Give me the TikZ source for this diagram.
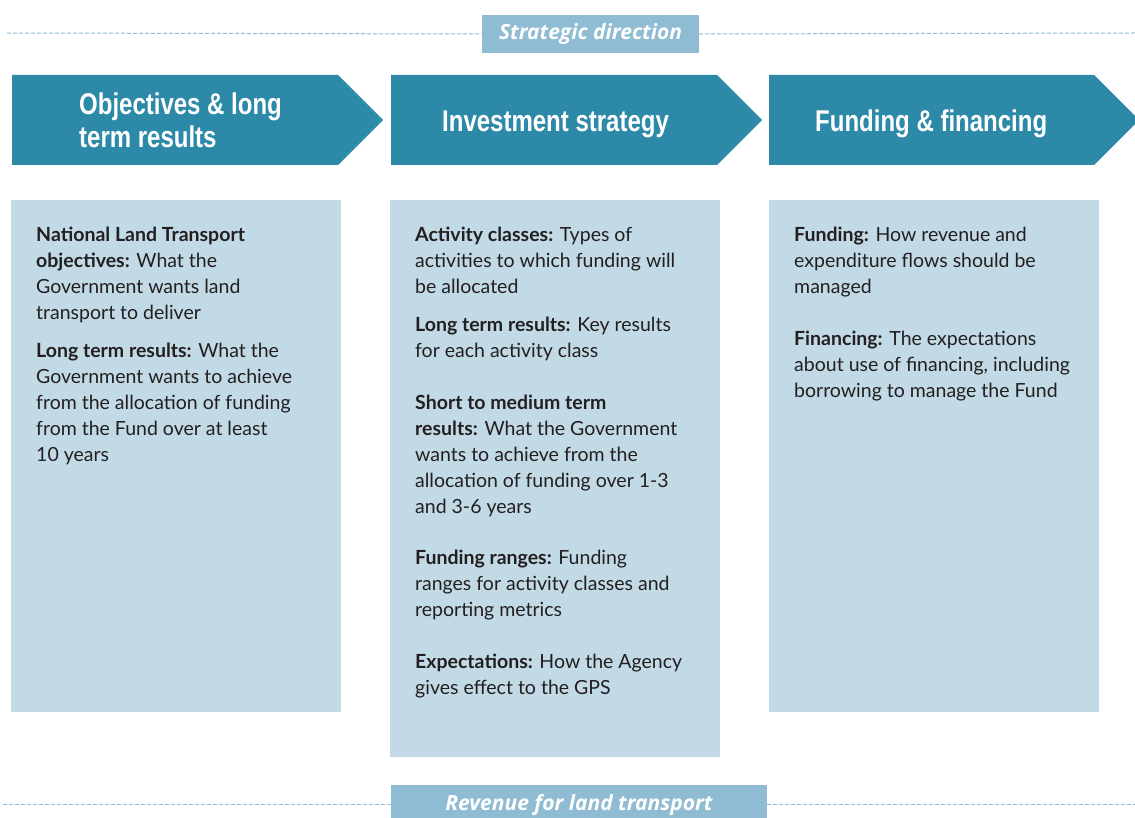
\documentclass[tikz,border=0pt]{standalone}
\usepackage{fontspec}
\setmainfont{Lato}
\newfontfamily\headfont[FakeStretch=0.8]{Liberation Sans}
\newfontfamily\tagfont{Open Sans}
\definecolor{tealA}{HTML}{2C89A8}
\definecolor{panelB}{HTML}{C2DAE6}
\definecolor{tagB}{HTML}{8FBCD2}
\definecolor{bodyT}{HTML}{231F20}
\tikzset{
  chevron/.style={fill=tealA},
  panel/.style={fill=panelB, anchor=north west, inner sep=0, minimum width=330pt},
  head/.style={text=white, font=\headfont\bfseries\fontsize{30}{33}\selectfont, inner sep=0, align=left},
  body/.style={text=bodyT, font=\fontsize{19.5}{26}\selectfont, inner sep=0, align=left, anchor=north west},
  tag/.style={fill=tagB, text=white, font=\tagfont\bfseries\itshape\fontsize{21}{24}\selectfont, inner sep=0},
  guide/.style={draw=tagB, dash pattern=on 4pt off 2pt, line width=1pt},
}
\begin{document}
\begin{tikzpicture}[x=1pt,y=-1pt]
\useasboundingbox (0,0) rectangle (1135,818);
% guide lines and tags
\coordinate (tl) at (7,33);
\coordinate (tr) at (1135,33);
\coordinate (bl) at (3,804);
\coordinate (br) at (1135,804);
\node[tag, minimum width=217pt, minimum height=38pt] (sd) at (590.5,34) {Strategic direction};
\draw[guide] (tl) -- (sd.west);
\draw[guide] (sd.east) -- (tr);
\node[tag, minimum width=376pt, minimum height=40pt] (rv) at (579,805) {Revenue for land transport};
\draw[guide] (bl) -- (rv.west |- bl);
\draw[guide] (rv.east |- br) -- (br);
% chevrons
\fill[chevron] (12,75) -- (338,75) -- (383,120) -- (338,165) -- (12,165) -- cycle;
\fill[chevron] (391,75) -- (717,75) -- (762,120) -- (717,165) -- (391,165) -- cycle;
\fill[chevron] (769,75) -- (1094,75) -- (1139,120) -- (1094,165) -- (769,165) -- cycle;
\node[head, anchor=north west] (h1) at (79,90.9) {\strut Objectives \& long\\term results};
\node[head, anchor=base west] (h2) at (442,132) {Investment strategy};
\node[head, anchor=base west] (h3) at (815,132) {Funding \& financing};
% panels
\node[panel, minimum height=512pt] (p1) at (11,200) {};
\node[panel, minimum height=557pt] (p2) at (390,200) {};
\node[panel, minimum height=512pt] (p3) at (769,200) {};
% panel 1 text
\node[body] (a1) at (36,222.8) {\strut\textbf{National Land Transport}\\\textbf{objectives:} What the\\Government wants land\\transport to deliver};
\node[body] (a2) at (36,338.8) {\strut\textbf{Long term results:} What the\\Government wants to achieve\\from the allocation of funding\\from the Fund over at least\\10 years};
% panel 2 text
\node[body] (b1) at (415,222.8) {\strut\textbf{Activity classes:} Types of\\activities to which funding will\\be allocated};
\node[body] (b2) at (415,312.8) {\strut\textbf{Long term results:} Key results\\for each activity class};
\node[body] (b3) at (415,390.8) {\strut\textbf{Short to medium term}\\\textbf{results:} What the Government\\wants to achieve from the\\allocation of funding over 1-3\\and 3-6 years};
\node[body] (b4) at (415,545.8) {\strut\textbf{Funding ranges:} Funding\\ranges for activity classes and\\reporting metrics};
\node[body] (b5) at (415,649.8) {\strut\textbf{Expectations:} How the Agency\\gives effect to the GPS};
% panel 3 text
\node[body] (c1) at (794,222.8) {\strut\textbf{Funding:} How revenue and\\expenditure flows should be\\managed};
\node[body] (c2) at (794,326.8) {\strut\textbf{Financing:} The expectations\\about use of financing, including\\borrowing to manage the Fund};
\end{tikzpicture}
\end{document}
